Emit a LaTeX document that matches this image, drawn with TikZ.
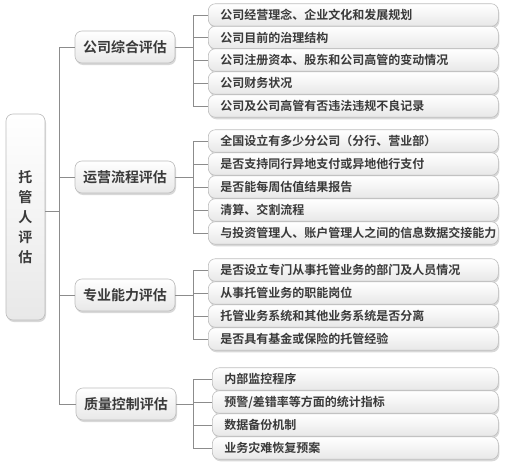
\documentclass[tikz,border=0pt]{standalone}
\usepackage{fontspec}
\newfontfamily\cjk{Noto Sans CJK SC}[BoldFont={Noto Sans CJK SC Bold}]
\usetikzlibrary{shadows}
\definecolor{txt}{HTML}{3A3A3A}
\definecolor{edge}{HTML}{BDBDBD}
\definecolor{linec}{HTML}{8C8C8C}
\tikzset{
  x=1pt,y=-1pt,
  boxbase/.style={draw=edge, line width=0.6pt, top color=white, bottom color=black!9,
     drop shadow={shadow xshift=1pt, shadow yshift=-2pt, opacity=0.25, fill=black!60},
     text=txt, font=\cjk\bfseries, inner sep=0pt},
  rootbox/.style={boxbase, rounded corners=7pt, minimum width=39pt, minimum height=206pt,
     font=\cjk\bfseries\fontsize{14}{20}\selectfont, align=center},
  catbox/.style={boxbase, rounded corners=7pt, minimum width=100pt, minimum height=32pt,
     font=\cjk\bfseries\fontsize{14}{16}\selectfont},
  itembox/.style={boxbase, rounded corners=7pt, minimum height=22.5pt, anchor=west,
     font=\cjk\bfseries\fontsize{12}{14}\selectfont, text width=290pt, align=left, inner xsep=0pt,
     execute at begin node={\hspace*{12pt}}},
  conn/.style={draw=linec, line width=0.6pt}
}
\begin{document}
\begin{tikzpicture}
\useasboundingbox (0,0) rectangle (507,466);
\fill[white] (0,0) rectangle (507,466);

\node[rootbox] (root) at (25.5,217) {托\\管\\人\\评\\估};

\node[catbox] (c1) at (125,47) {公司综合评估};
\node[catbox] (c2) at (125,177) {运营流程评估};
\node[catbox] (c3) at (125,295) {专业能力评估};
\node[catbox] (c4) at (126,404) {质量控制评估};

% group 1
\node[itembox] (a1) at (208,15) {公司经营理念、企业文化和发展规划};
\node[itembox] (a2) at (208,37.5) {公司目前的治理结构};
\node[itembox] (a3) at (208,60) {公司注册资本、股东和公司高管的变动情况};
\node[itembox] (a4) at (208,83) {公司财务状况};
\node[itembox] (a5) at (208,106) {公司及公司高管有否违法违规不良记录};
% group 2
\node[itembox] (b1) at (208,141) {全国设立有多少分公司（分行、营业部）};
\node[itembox] (b2) at (208,164) {是否支持同行异地支付或异地他行支付};
\node[itembox] (b3) at (208,187) {是否能每周估值结果报告};
\node[itembox] (b4) at (208,210) {清算、交割流程};
\node[itembox] (b5) at (208,233) {与投资管理人、账户管理人之间的信息数据交接能力};
% group 3
\node[itembox] (d1) at (208,270) {是否设立专门从事托管业务的部门及人员情况};
\node[itembox] (d2) at (208,293) {从事托管业务的职能岗位};
\node[itembox] (d3) at (208,316) {托管业务系统和其他业务系统是否分离};
\node[itembox] (d4) at (208,339) {是否具有基金或保险的托管经验};
% group 4
\node[itembox, text width=286pt] (e1) at (212,379) {内部监控程序};
\node[itembox, text width=286pt] (e2) at (212,402) {预警/差错率等方面的统计指标};
\node[itembox, text width=286pt] (e3) at (212,425) {数据备份机制};
\node[itembox, text width=286pt] (e4) at (212,448) {业务灾难恢复预案};

% trunk
\coordinate (rt) at ([yshift=6pt]root.east);
\foreach \c in {c1,c2,c3,c4}
  \draw[conn] (rt) -- ++(14,0) |- (\c.west);

% brackets
\foreach \i in {a1,a2,a3,a4,a5}
  \draw[conn] (c1.east) -- ++(18,0) |- (\i.west);
\foreach \i in {b1,b2,b3,b4,b5}
  \draw[conn] (c2.east) -- ++(18,0) |- (\i.west);
\foreach \i in {d1,d2,d3,d4}
  \draw[conn] (c3.east) -- ++(18,0) |- (\i.west);
\foreach \i in {e1,e2,e3,e4}
  \draw[conn] (c4.east) -- ++(17,0) |- (\i.west);
\end{tikzpicture}
\end{document}
